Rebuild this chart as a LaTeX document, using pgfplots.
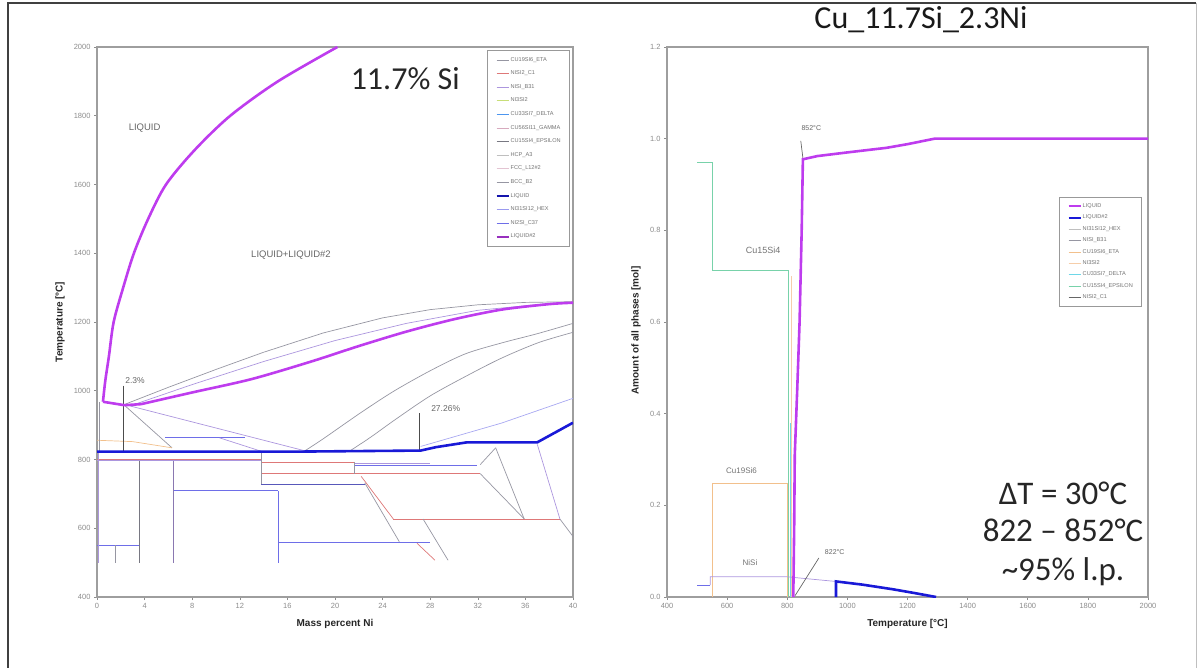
\documentclass[border=0pt]{standalone}
\usepackage{fontspec}
\setmainfont{Liberation Sans}
\newfontfamily\calibri{Carlito}
\usepackage{pgfplots}
\pgfplotsset{compat=1.18}

\definecolor{liqmag}{RGB}{190,60,238}
\definecolor{liqblue}{RGB}{25,25,215}
\definecolor{lred}{RGB}{222,120,120}
\definecolor{lblue}{RGB}{110,110,232}
\definecolor{lgray}{RGB}{150,150,162}
\definecolor{llilac}{RGB}{172,150,222}
\definecolor{lorange}{RGB}{242,192,140}
\definecolor{lpeach}{RGB}{246,206,170}
\definecolor{lteal}{RGB}{120,210,170}
\definecolor{lcyan}{RGB}{110,215,232}
\definecolor{lygreen}{RGB}{200,222,120}
\definecolor{lpink}{RGB}{215,170,190}

\pgfplotsset{
  diagram/.style={
    scale only axis, anchor=south west, height=550pt,
    axis line style={draw=black!38, line width=1.1pt},
    tick style={draw=black!45, line width=0.6pt},
    tick align=outside, major tick length=3pt, tick pos=left,
    tick label style={font=\fontsize{7.5}{8}\selectfont, text=black!45},
    label style={font=\bfseries\fontsize{10}{11}\selectfont, text=black!85},
    /pgf/number format/1000 sep={},
    /pgf/number format/assume math mode=true,
    legend cell align=left,
    legend image code/.code={\draw[##1] (0pt,0pt) -- (12pt,0pt);},
  },
  thin/.style={line width=0.7pt, forget plot},
  thick/.style={line width=2.6pt, forget plot},
}

\begin{document}
\begin{tikzpicture}
\useasboundingbox (0pt,0pt) rectangle (1198pt,667pt);
\draw[black!75, line width=1.3pt] (8pt,-5pt) -- (8pt,664pt) -- (1196pt,664pt);
\draw[black!25, line width=0.8pt] (1196pt,664pt) -- (1196pt,-5pt);

% ---------------- isopleth: temperature vs. mass percent Ni ----------------
\begin{axis}[diagram, at={(97pt,70pt)}, width=476pt,
  xmin=0, xmax=40, ymin=400, ymax=2000,
  xtick={0,4,...,40}, ytick={400,600,...,2000},
  xlabel={Mass percent Ni}, ylabel={Temperature [°C]},
  xlabel style={at={(axis description cs:0.5,0)}, yshift=-27pt, anchor=center},
  ylabel style={at={(axis description cs:0,0.5)}, yshift=37pt, anchor=center},
  legend style={at={(0.994,0.995)}, anchor=north east, draw=black!40,
    line width=0.8pt, fill=white, font=\fontsize{5.6}{6}\selectfont,
    text=black!55, row sep=6.2pt, inner xsep=8pt, inner ysep=6pt,
    nodes={inner sep=1pt}},
]
% phase boundaries
\addplot[thin, lgray] coordinates {(2.3,960)(6,1010)(10,1062)(14,1112)(19,1168)(24,1212)(28,1236)(32,1250)(36,1257)(40,1259)};
\addplot[thin, llilac] coordinates {(3.2,961)(8,1018)(14,1085)(20,1146)(26,1196)(32,1234)(38,1254)};
\addplot[thin, lgray, smooth] coordinates {(17.5,826)(19,860)(22.2,937)(25,1000)(28.1,1060)(31,1108)(34.1,1140)(37,1166)(40,1196)};
\addplot[thin, lgray, smooth] coordinates {(21.3,826)(23,865)(25.1,917)(28,985)(31.1,1044)(34,1095)(37.1,1140)(40,1170)};
\addplot[thin, lblue!60] coordinates {(27.2,838)(30,866)(34,906)(40,978)};
\addplot[thin, llilac] coordinates {(2.3,960)(17.5,825)};
\addplot[thin, lgray] coordinates {(2.3,958)(6.3,834)};
\addplot[thin, lorange] coordinates {(0,856)(3,852)(6.3,834)};
\addplot[thin, lblue] coordinates {(5.7,863)(12.4,863)};
\addplot[thin, llilac] coordinates {(10.3,863)(13.8,824)};
\addplot[thin, lgray] coordinates {(0.2,968)(0.2,823)};
% annotation leaders
\addplot[thin, black!70] coordinates {(2.2,1015)(2.2,823)};
\addplot[thin, black!70] coordinates {(27.1,935)(27.1,826)};
% low temperature horizontals
\addplot[thin, lred] coordinates {(0,801)(13.8,801)};
\addplot[thin, llilac] coordinates {(0,797)(13.8,797)};
\addplot[thin, lred] coordinates {(13.8,793)(21.6,793)};
\addplot[thin, lblue] coordinates {(21.6,783)(31.9,783)};
\addplot[thin, llilac] coordinates {(21.6,788)(28,788)};
\addplot[thin, lred] coordinates {(13.8,759)(32.2,759)};
\addplot[thin, lblue!80!black] coordinates {(13.8,729)(22.5,729)};
\addplot[thin, lblue] coordinates {(6.4,709)(15.2,709)};
\addplot[thin, lred] coordinates {(24.9,627)(38.9,627)};
\addplot[thin, lblue] coordinates {(15.2,559)(28,559)};
\addplot[thin, lblue] coordinates {(0,551)(3.6,551)};
% verticals
\addplot[thin, lgray!80!black] coordinates {(3.6,797)(3.6,500)};
\addplot[thin, llilac!80!black] coordinates {(6.4,797)(6.4,500)};
\addplot[thin, lgray] coordinates {(13.8,822)(13.8,729)};
\addplot[thin, lblue] coordinates {(15.2,709)(15.2,500)};
\addplot[thin, lgray] coordinates {(1.5,551)(1.5,500)};
\addplot[thin, lgray] coordinates {(21.6,793)(21.6,759)};
\addplot[thin, llilac] coordinates {(0.1,822)(0.1,500)};
% diagonals
\addplot[thin, lred] coordinates {(22.2,751)(24.9,627)};
\addplot[thin, lgray] coordinates {(22.5,732)(25.4,561)};
\addplot[thin, lgray] coordinates {(27.4,627)(29.5,507)};
\addplot[thin, lred] coordinates {(26.9,556)(28.4,507)};
\addplot[thin, lgray] coordinates {(32.2,785)(33.5,834)};
\addplot[thin, lgray] coordinates {(33.5,834)(35.9,627)};
\addplot[thin, lgray] coordinates {(32.2,759)(35.9,627)};
\addplot[thin, llilac] coordinates {(37,844)(38.9,627)};
\addplot[thin, lgray] coordinates {(38.9,627)(40,576)};
% liquid boundaries
\addplot[thick, liqblue] coordinates {(0,823)(17,823)(27.2,826)(28.5,836)(31.1,850)(37,850)(40,907)};
\addplot[thick, liqmag, smooth, tension=0.5] coordinates {(20.2,2000)(15.2,1900)(11.2,1800)(8.2,1700)(5.8,1600)(4.3,1500)(3.1,1400)(2.2,1300)(1.4,1200)(1.0,1100)(0.7,1030)(0.5,968)};
\addplot[thick, liqmag] coordinates {(0.5,968)(2.3,958)(3.7,961)};
\addplot[thick, liqmag, smooth, tension=0.5] coordinates {(3.7,961)(8,995)(13,1034)(18,1085)(22,1130)(26,1172)(30,1208)(34,1236)(38,1252)(40,1256)};

\node[font=\fontsize{9.5}{10}\selectfont, text=black!60] at (axis cs:4.0,1765) {LIQUID};
\node[font=\fontsize{9.5}{10}\selectfont, text=black!60] at (axis cs:16.3,1395) {LIQUID+LIQUID\#2};
\node[font=\fontsize{8.5}{9}\selectfont, text=black!60] at (axis cs:3.2,1030) {2.3\%};
\node[font=\fontsize{8.5}{9}\selectfont, text=black!60] at (axis cs:29.3,948) {27.26\%};
\node[font=\calibri\fontsize{32}{36}\selectfont, text=black!85] at (axis cs:25.9,1908) {11.7\% Si};

\addlegendimage{line width=0.7pt, lgray}\addlegendentry{CU19SI6\_ETA}
\addlegendimage{line width=0.7pt, lred}\addlegendentry{NISI2\_C1}
\addlegendimage{line width=0.7pt, llilac}\addlegendentry{NISI\_B31}
\addlegendimage{line width=0.7pt, lygreen}\addlegendentry{NI3SI2}
\addlegendimage{line width=0.7pt, lcyan!70!blue}\addlegendentry{CU33SI7\_DELTA}
\addlegendimage{line width=0.7pt, lpink}\addlegendentry{CU56SI11\_GAMMA}
\addlegendimage{line width=0.7pt, lgray!80!black}\addlegendentry{CU15SI4\_EPSILON}
\addlegendimage{line width=0.7pt, black!25}\addlegendentry{HCP\_A3}
\addlegendimage{line width=0.7pt, lpink!70}\addlegendentry{FCC\_L12\#2}
\addlegendimage{line width=0.7pt, lgray}\addlegendentry{BCC\_B2}
\addlegendimage{line width=2.2pt, liqblue!80!black}\addlegendentry{LIQUID}
\addlegendimage{line width=0.7pt, lblue!70}\addlegendentry{NI31SI12\_HEX}
\addlegendimage{line width=0.7pt, lblue}\addlegendentry{NI2SI\_C37}
\addlegendimage{line width=2.2pt, liqmag!80!black}\addlegendentry{LIQUID\#2}
\end{axis}

% ---------------- phase amounts vs. temperature ----------------
\begin{axis}[diagram, at={(667pt,70pt)}, width=481pt,
  xmin=400, xmax=2000, ymin=0, ymax=1.2,
  xtick={400,600,...,2000}, ytick={0,0.2,0.4,0.6,0.8,1.0,1.2},
  yticklabel style={/pgf/number format/.cd, fixed, fixed zerofill, precision=1},
  xlabel={Temperature [°C]}, ylabel={Amount of all phases [mol]},
  xlabel style={at={(axis description cs:0.5,0)}, yshift=-27pt, anchor=center},
  ylabel style={at={(axis description cs:0,0.485)}, yshift=31pt, anchor=center},
  legend style={at={(0.988,0.727)}, anchor=north east, draw=black!40,
    line width=0.8pt, fill=white, font=\fontsize{5.6}{6}\selectfont,
    text=black!55, row sep=4.0pt, inner xsep=8pt, inner ysep=5pt,
    nodes={inner sep=1pt}},
]
\addplot[thin, lteal] coordinates {(500,0.949)(550,0.949)(550,0.712)(803,0.712)(803,0)};
\addplot[thin, lorange] coordinates {(550,0)(550,0.247)(800,0.247)(800,0)};
\addplot[thin, lpeach] coordinates {(815,0.70)(815,0)};
\addplot[thin, lcyan] coordinates {(811,0.38)(811,0)};
\addplot[thin, lblue] coordinates {(500,0.026)(544,0.026)};
\addplot[thin, llilac] coordinates {(544,0.026)(544,0.044)(800,0.044)(960,0.034)};
\addplot[thin, black!60] coordinates {(852,0.958)(845,0.995)};
\addplot[thin, black!60] coordinates {(826,0.003)(905,0.085)};
\addplot[thick, liqblue] coordinates {(962,0)(962,0.034)(1050,0.027)(1150,0.017)(1220,0.009)(1295,0)};
\addplot[thick, liqmag] coordinates {(820,0)(823,0.15)(825,0.31)(833,0.45)(841,0.6)(848,0.8)(852,0.955)(900,0.962)(1000,0.97)(1130,0.98)(1200,0.988)(1290,1.0)(2000,1.0)};

\node[font=\fontsize{9}{10}\selectfont, text=black!55] at (axis cs:720,0.757) {Cu15Si4};
\node[font=\fontsize{8}{9}\selectfont, text=black!55] at (axis cs:648,0.275) {Cu19Si6};
\node[font=\fontsize{8}{9}\selectfont, text=black!55] at (axis cs:676,0.075) {NiSi};
\node[font=\fontsize{7}{8}\selectfont, text=black!60] at (axis cs:880,1.022) {852°C};
\node[font=\fontsize{7}{8}\selectfont, text=black!60] at (axis cs:958,0.098) {822°C};

\addlegendimage{line width=2.2pt, liqmag}\addlegendentry{LIQUID}
\addlegendimage{line width=2.2pt, liqblue}\addlegendentry{LIQUID\#2}
\addlegendimage{line width=0.7pt, black!25}\addlegendentry{NI31SI12\_HEX}
\addlegendimage{line width=0.7pt, lgray}\addlegendentry{NISI\_B31}
\addlegendimage{line width=0.7pt, lorange}\addlegendentry{CU19SI6\_ETA}
\addlegendimage{line width=0.7pt, lpeach}\addlegendentry{NI3SI2}
\addlegendimage{line width=0.7pt, lcyan}\addlegendentry{CU33SI7\_DELTA}
\addlegendimage{line width=0.7pt, lteal}\addlegendentry{CU15SI4\_EPSILON}
\addlegendimage{line width=0.7pt, black!60}\addlegendentry{NISI2\_C1}
\end{axis}

\node[font=\calibri\fontsize{32}{36}\selectfont, text=black!90] at (921pt,647pt) {Cu\_11.7Si\_2.3Ni};
\begin{scope}[font=\calibri\fontsize{33}{38}\selectfont, text=black!85]
\node at (1063pt,174pt) {ΔT = 30°C};
\node at (1063pt,137pt) {822 – 852°C};
\node at (1063pt,95pt) {\textasciitilde 95\% l.p.};
\end{scope}
\end{tikzpicture}
\end{document}
